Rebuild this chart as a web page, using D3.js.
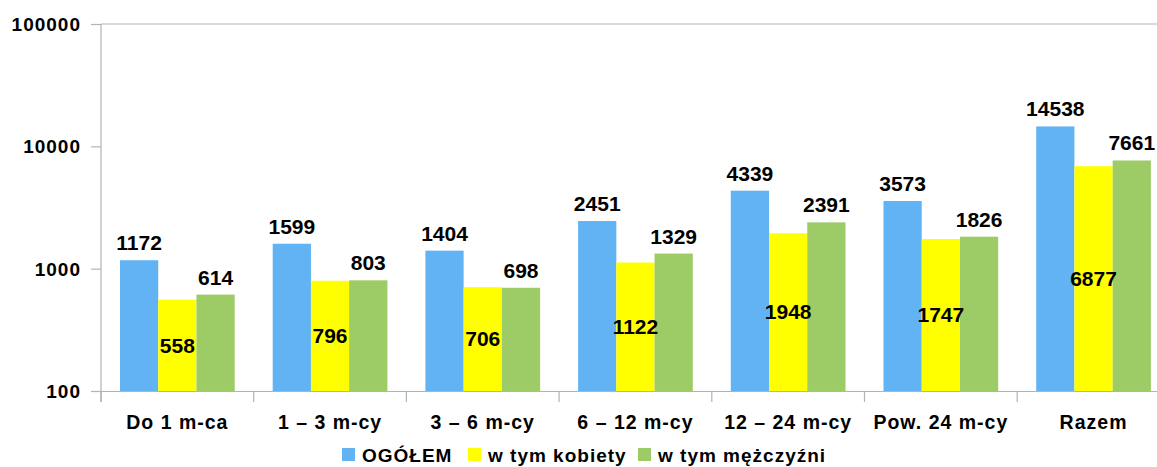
<!DOCTYPE html>
<html><head><meta charset="utf-8">
<script src="https://cdn.jsdelivr.net/npm/d3@7"></script>
<style>
body{margin:0;background:#fff;}
text{font-family:"Liberation Sans",Arial,sans-serif;font-weight:bold;fill:#000;}
</style></head>
<body><svg id="chart" width="1157" height="467"></svg>
<script>
const categories = ["Do 1 m-ca","1 – 3 m-cy","3 – 6 m-cy","6 – 12 m-cy","12 – 24 m-cy","Pow. 24 m-cy","Razem"];
const seriesNames = ["OGÓŁEM","w tym kobiety","w tym mężczyźni"];
const ogolem = [1172,1599,1404,2451,4339,3573,14538];
const kobiety = [558,796,706,1122,1948,1747,6877];
const mezczyzni = [614,803,698,1329,2391,1826,7661];
const yTicks = [100,1000,10000,100000];
const colors = ["#62b3f4","#ffff00","#9dcb66"];

const series = [ogolem,kobiety,mezczyzni];
const svg = d3.select("#chart");
const pLeft = 101, pTop = 24, pBottom = 391, catW = 152.7;
const y = d3.scaleLog().domain([100,100000]).range([pBottom,pTop]);
const x = d3.scaleBand().domain(categories).range([pLeft,pLeft+catW*categories.length]).padding(0);
const xs = d3.scaleBand().domain(d3.range(3)).range([19,catW-19]).padding(0);
const axisColor = "#b3b3b3";

// top gridline
svg.append("line").attr("x1",pLeft).attr("x2",1157).attr("y1",y(100000)).attr("y2",y(100000)).attr("stroke",axisColor).attr("stroke-width",1.2);

// y axis
const yAxis = d3.axisLeft(y).tickValues(yTicks).tickFormat(d3.format("d")).tickSize(10).tickPadding(10);
const gy = svg.append("g").attr("transform",`translate(${pLeft},0)`).call(yAxis);
gy.select(".domain").remove();
gy.selectAll("line").attr("stroke",axisColor).attr("stroke-width",1.2);
gy.selectAll("text").style("font-size","19px").style("letter-spacing","1px").attr("dy","0.35em").attr("fill","#000");
svg.append("line").attr("x1",pLeft).attr("x2",pLeft).attr("y1",pTop).attr("y2",pBottom+11).attr("stroke",axisColor).attr("stroke-width",1.2);

// bars
categories.forEach((c,i)=>{
  series.forEach((s,j)=>{
    svg.append("rect").attr("x",x(c)+xs(j)).attr("width",xs.bandwidth())
      .attr("y",y(s[i])).attr("height",pBottom-y(s[i])).attr("fill",colors[j]);
  });
});

// x axis
const xAxis = d3.axisBottom(x).tickSize(0).tickPadding(24);
const gx = svg.append("g").attr("transform",`translate(0,${pBottom})`).call(xAxis);
gx.select(".domain").attr("stroke",axisColor).attr("stroke-width",1.2);
gx.selectAll("text").style("font-size","19.5px").style("letter-spacing","1px").attr("fill","#000");
categories.forEach((c,i)=>{
  svg.append("line").attr("x1",x(c)).attr("x2",x(c)).attr("y1",pBottom).attr("y2",pBottom+11).attr("stroke",axisColor).attr("stroke-width",1.2);
});

// data labels
categories.forEach((c,i)=>{
  series.forEach((s,j)=>{
    const cx = x(c)+xs(j)+xs.bandwidth()/2;
    const t = svg.append("text").attr("x",cx).attr("text-anchor","middle").style("font-size","21px").text(s[i]);
    if(j===1){
      t.attr("y",(y(s[i])+pBottom)/2).attr("dy","0.35em");
    } else {
      t.attr("y",y(s[i])-10);
    }
  });
});

// legend
const legendX = [342,468,638];
const lg = svg.append("g");
seriesNames.forEach((n,j)=>{
  lg.append("rect").attr("x",legendX[j]).attr("y",448).attr("width",13).attr("height",13).attr("fill",colors[j]);
  lg.append("text").attr("x",legendX[j]+20).attr("y",462).style("font-size","19px").style("letter-spacing","1px").text(n);
});
</script></body></html>
